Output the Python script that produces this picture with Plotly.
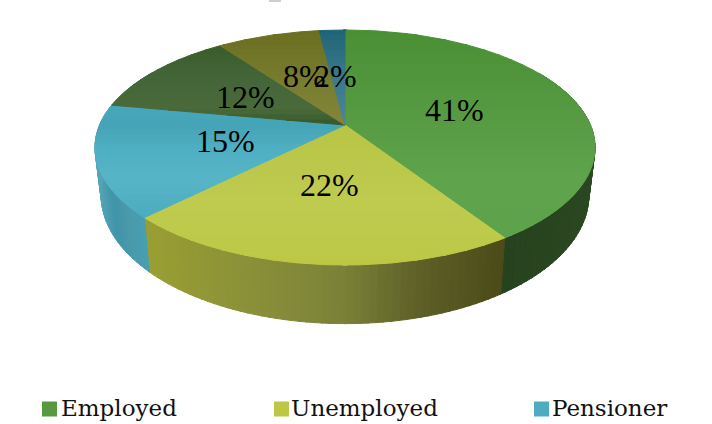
import math
import plotly.graph_objects as go

# ---- data ----
legend_categories = ["Employed", "Unemployed", "Pensioner"]
slice_values = [40.8, 21.7, 15.4, 12.1, 8.0, 2.0]
slice_labels = ["41%", "22%", "15%", "12%", "8%", "2%"]

# ---- styling: (screen y, colour) stops on the top face ----
top_stops = [
    [(30, "#4a8f34"), (100, "#54983f"), (180, "#5fa44d"), (240, "#5ea34c")],
    [(125, "#b8c444"), (200, "#bfcb4f"), (265, "#bcc845")],
    [(105, "#48a8bb"), (125, "#45a3b6"), (150, "#4fb0c3"), (180, "#56b5c6"), (218, "#4cacc0")],
    [(45, "#3a5c2a"), (80, "#446639"), (110, "#4a6a3a"), (125, "#35582a")],
    [(31, "#6b6e20"), (80, "#787c2f"), (125, "#838638")],
    [(30, "#1e6476"), (70, "#377789"), (125, "#4d8498")],
]
# (screen x, colour) stops on the side wall
wall_stops = [
    [(500, "#26421e"), (595, "#2a4822")],
    [(145, "#9a9f33"), (250, "#8a9038"), (340, "#7b8238"), (420, "#5d5f27"), (505, "#4b4a18")],
    [(94, "#5ba9b8"), (115, "#3f95a8"), (130, "#4b9aab"), (149, "#45a0b4")],
    [(94, "#5ba9b8"), (110, "#5ba9b8")],
    [(94, "#5ba9b8"), (110, "#5ba9b8")],
    [(94, "#5ba9b8"), (110, "#5ba9b8")],
]
label_xy = [(454, 110), (329, 185), (225, 141), (245, 97), (304, 76), (335, 76)]
legend_marker_x = [49.5, 281.5, 541.5]
legend_marker_colours = ["#57993f", "#bcc845", "#4cacc0"]
legend_text_x = [61, 291, 552]
LEGEND_Y = 408

# ---- projection of the tilted disc ----
CX, CY, A, B, K = 345, 125, 245.4, 113.2, 0.1915


def top_point(deg):
    t = math.radians(deg)
    X, Y = math.sin(t), math.cos(t)
    w = 1 / (1 + K * Y)
    return CX + A * X * w, CY - B * Y * w


def bottom_point(deg):
    x, y = top_point(deg)
    return CX + (x - CX) * 0.975, CY + (y - CY) * 1.09 + 46


def hex2rgb(c):
    return tuple(int(c[i:i + 2], 16) for i in (1, 3, 5))


def colour_at(stops, v):
    if v <= stops[0][0]:
        return stops[0][1]
    if v >= stops[-1][0]:
        return stops[-1][1]
    for (a, ca), (b, cb) in zip(stops, stops[1:]):
        if a <= v <= b:
            f = (v - a) / (b - a)
            ra, rb = hex2rgb(ca), hex2rgb(cb)
            return "rgb(%d,%d,%d)" % tuple(round(p + (q - p) * f) for p, q in zip(ra, rb))


def clip(poly, limit, keep_above):
    out = []
    inside = (lambda p: p[1] >= limit) if keep_above else (lambda p: p[1] <= limit)
    for i, p in enumerate(poly):
        q = poly[(i + 1) % len(poly)]
        if inside(p):
            out.append(p)
        if inside(p) != inside(q):
            f = (limit - p[1]) / (q[1] - p[1])
            out.append((p[0] + (q[0] - p[0]) * f, limit))
    return out


def polygon(points, colour):
    xs = [p[0] for p in points] + [points[0][0]]
    ys = [p[1] for p in points] + [points[0][1]]
    return go.Scatter(x=xs, y=ys, mode="lines", fill="toself", fillcolor=colour,
                      line=dict(color=colour, width=1), hoverinfo="skip", showlegend=False)


fig = go.Figure()
total = sum(slice_values)
starts, s = [], 0.0
for v in slice_values:
    starts.append(s)
    s += v / total * 360

# side wall, one thin strip at a time
for i, v in enumerate(slice_values):
    a0 = starts[i]
    a1 = a0 + v / total * 360
    lo, hi = max(a0, 60), min(a1, 300)
    d = lo
    while d < hi:
        e = min(d + 1.5, hi)
        quad = [top_point(d), top_point(e + 0.3), bottom_point(e + 0.3), bottom_point(d)]
        mx = sum(p[0] for p in quad) / 4
        fig.add_trace(polygon(quad, colour_at(wall_stops[i], mx)))
        d = e

# top face, each slice cut into horizontal shading bands
BAND = 5
for i, v in enumerate(slice_values):
    a0 = starts[i]
    n = max(4, int(v / total * 360))
    a1 = a0 + v / total * 360
    wedge = [(CX, CY)] + [top_point(a0 + (a1 - a0) * k / n) for k in range(n + 1)]
    y = 25
    while y < 270:
        part = clip(clip(wedge, y, True), y + BAND, False)
        if len(part) >= 3:
            fig.add_trace(polygon(part, colour_at(top_stops[i], y + BAND / 2)))
        y += BAND

# legend squares
fig.add_trace(go.Scatter(
    x=legend_marker_x, y=[LEGEND_Y + 1] * 3, mode="markers", hoverinfo="skip", showlegend=False,
    marker=dict(symbol="square", size=15, color=legend_marker_colours)))

annotations = []
for (x, y), t in zip(label_xy, slice_labels):
    annotations.append(dict(x=x, y=y, text=t, showarrow=False, xanchor="center", yanchor="middle",
                            font=dict(family="Liberation Serif", size=32, color="#000000")))
for x, t in zip(legend_text_x, legend_categories):
    annotations.append(dict(x=x, y=LEGEND_Y, text=t, showarrow=False, xanchor="left", yanchor="middle",
                            xshift=-2, font=dict(family="DejaVu Serif", size=23, color="#111111")))

fig.update_layout(
    width=712, height=424, margin=dict(l=0, r=0, t=0, b=0),
    paper_bgcolor="white", plot_bgcolor="white", showlegend=False,
    xaxis=dict(range=[0, 712], visible=False, fixedrange=True),
    yaxis=dict(range=[424, 0], visible=False, fixedrange=True),
    annotations=annotations,
    shapes=[dict(type="rect", x0=269, x1=281, y0=0, y1=2, fillcolor="#cfcfcf", line_width=0)],
)
fig.write_html("out.html", config={"displayModeBar": False},
               post_script="document.body.style.margin='0';")
